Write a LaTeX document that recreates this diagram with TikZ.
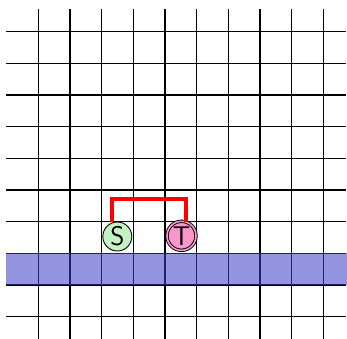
\documentclass[tikz,border=0pt]{standalone}
\definecolor{bandcol}{RGB}{60,60,200}
\definecolor{sfill}{RGB}{195,242,195}
\definecolor{tfill}{RGB}{250,150,205}
\tikzset{
  gridline/.style={line width=1.3pt, black},
  band/.style={fill=bandcol, fill opacity=0.55},
  snode/.style={circle, draw=black, line width=0.9pt, fill=sfill, minimum size=29pt, inner sep=0pt, font=\fontsize{27}{27}\selectfont\sffamily},
  tnode/.style={circle, draw=black, line width=0.9pt, double=tfill, double distance=1.6pt, fill=tfill, minimum size=29pt, inner sep=0pt, font=\fontsize{27}{27}\selectfont\sffamily},
  redline/.style={red, line width=4pt}
}
\begin{document}
\begin{tikzpicture}[x=1pt,y=-1pt]
\useasboundingbox (0,0) rectangle (347,338);
\foreach \i in {0,...,9} {
  \draw[gridline] ({38.3+31.67*\i}, 9.3) -- ({38.3+31.67*\i}, 345);
  \draw[gridline] (6, {31.7+31.67*\i}) -- (345.7, {31.7+31.67*\i});
}
\fill[band] (6,253.3) rectangle (347,285);
\node[snode] (S) at (117.3,236.5) {S};
\node[tnode] (T) at (181.5,235.8) {T};
\draw[redline] (S.110) |- (T.71 |- 0,199) -- (T.71);
\end{tikzpicture}
\end{document}
